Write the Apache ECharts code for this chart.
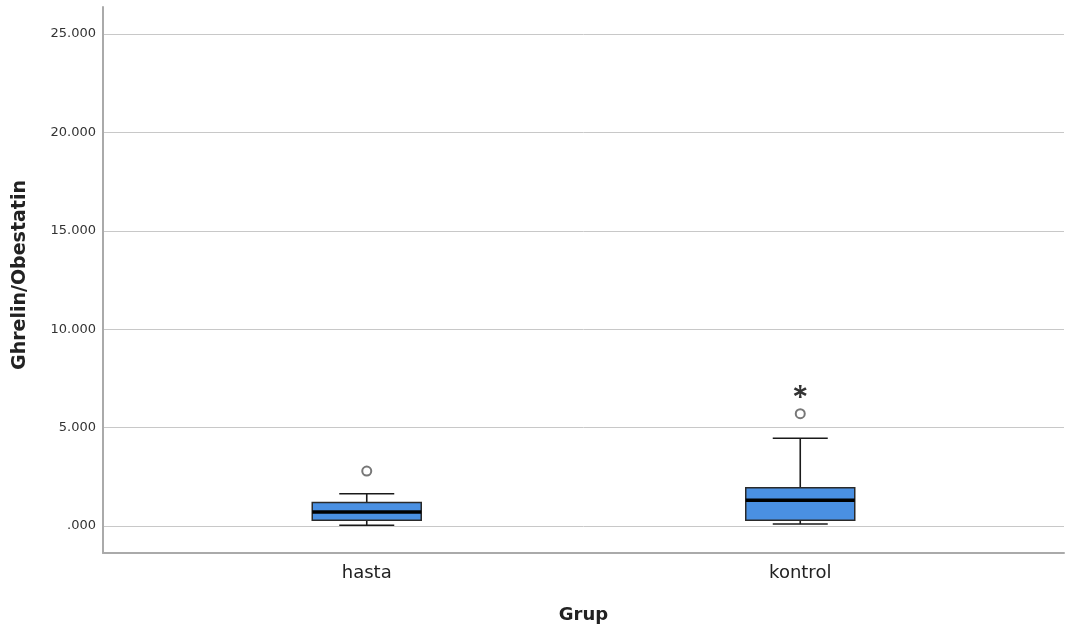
<!DOCTYPE html>
<html><head><meta charset="utf-8">
<script src="https://cdn.jsdelivr.net/npm/echarts@6/dist/echarts.min.js"></script>
<style>html,body{margin:0;padding:0;background:#fff}#c{width:1066px;height:629px}</style>
</head><body><div id="c"></div>
<script>
const categories = ['hasta', 'kontrol'];
// [lower whisker, Q1, median, Q3, upper whisker]
const boxHasta = [0.04, 0.30, 0.71, 1.20, 1.64];
const boxKontrol = [0.10, 0.30, 1.31, 1.95, 4.46];
const outliers = [['hasta', 2.79], ['kontrol', 5.71]];
const extremes = [['kontrol', 6.83]];
const yTicks = [0, 5, 10, 15, 20, 25];
const yMin = -1.37, yMax = 26.37;

const FONT = '"DejaVu Sans", sans-serif';
const chart = echarts.init(document.getElementById('c'));
const fmt = v => { const s = v.toFixed(3); return s.startsWith('0') ? s.slice(1) : s; };
const asterisk = 'path://M4,0 L6,0 L5.6,3.4 L8.6,1.6 L9.6,3.4 L6.4,5 L9.6,6.6 L8.6,8.4 L5.6,6.6 L6,10 L4,10 L4.4,6.6 L1.4,8.4 L0.4,6.6 L3.6,5 L0.4,3.4 L1.4,1.6 L4.4,3.4 Z';

const boxData = [boxHasta, boxKontrol].map((b, i) => [i].concat(b));
const BOXW = 109, CAPW = 55;

function renderBox(params, api) {
  const i = api.value(0);
  const pLow = api.coord([i, api.value(1)]);
  const pQ1 = api.coord([i, api.value(2)]);
  const pMed = api.coord([i, api.value(3)]);
  const pQ3 = api.coord([i, api.value(4)]);
  const pHigh = api.coord([i, api.value(5)]);
  const cx = pMed[0];
  const ls = {stroke: '#1a1a1a', lineWidth: 1.6, fill: null};
  return {
    type: 'group',
    children: [
      {type: 'line', shape: {x1: cx, y1: pQ3[1], x2: cx, y2: pHigh[1]}, style: ls},
      {type: 'line', shape: {x1: cx, y1: pQ1[1], x2: cx, y2: pLow[1]}, style: ls},
      {type: 'line', shape: {x1: cx - CAPW / 2, y1: pHigh[1], x2: cx + CAPW / 2, y2: pHigh[1]}, style: ls},
      {type: 'line', shape: {x1: cx - CAPW / 2, y1: pLow[1], x2: cx + CAPW / 2, y2: pLow[1]}, style: ls},
      {type: 'rect', shape: {x: cx - BOXW / 2, y: pQ3[1], width: BOXW, height: pQ1[1] - pQ3[1]},
       style: {fill: '#4a90e2', stroke: '#2a2a2a', lineWidth: 1.5}},
      {type: 'line', shape: {x1: cx - BOXW / 2, y1: pMed[1], x2: cx + BOXW / 2, y2: pMed[1]},
       style: {stroke: '#000', lineWidth: 3.5}}
    ]
  };
}

chart.setOption({
  animation: false,
  grid: [
    {left: 103, right: 2, top: 7, bottom: 76, outerBoundsMode: 'none', containLabel: false},
    {left: 150, right: 49, top: 7, bottom: 76, outerBoundsMode: 'none', containLabel: false}
  ],
  xAxis: [
    {gridIndex: 0, type: 'category', data: ['', ''],
     axisLine: {onZero: false, lineStyle: {color: '#aaaaaa', width: 2}}, axisTick: {show: false}, axisLabel: {show: false},
     name: 'Grup', nameLocation: 'middle', nameGap: 53,
     nameTextStyle: {fontFamily: FONT, fontSize: 18, fontWeight: 'bold', color: '#222'}},
    {gridIndex: 1, type: 'category', data: categories,
     axisLine: {show: false, onZero: false}, axisTick: {show: false},
     axisLabel: {fontFamily: FONT, fontSize: 18, color: '#222', margin: 11}}
  ],
  yAxis: [
    {gridIndex: 0, type: 'value', min: yMin, max: yMax,
     axisLine: {show: true, onZero: false, lineStyle: {color: '#aaaaaa', width: 2}},
     axisTick: {show: false, customValues: yTicks},
     axisLabel: {customValues: yTicks, formatter: fmt, fontFamily: FONT, fontSize: 13, color: '#333', margin: 7},
     splitLine: {show: true, lineStyle: {color: '#c8c8c8', width: 1}},
     name: 'Ghrelin/Obestatin', nameLocation: 'middle', nameGap: 73,
     nameTextStyle: {fontFamily: FONT, fontSize: 19, fontWeight: 'bold', color: '#222', padding: [0, 0, 0, 10]}},
    {gridIndex: 1, type: 'value', min: yMin, max: yMax, show: false, splitLine: {show: false}}
  ],
  series: [
    {type: 'custom', xAxisIndex: 1, yAxisIndex: 1, renderItem: renderBox,
     encode: {x: 0, y: [1, 2, 3, 4, 5]}, data: boxData, silent: true},
    {type: 'scatter', xAxisIndex: 1, yAxisIndex: 1, symbol: 'circle', symbolSize: 9,
     itemStyle: {color: '#fff', borderColor: '#555', borderWidth: 2}, data: outliers},
    {type: 'scatter', xAxisIndex: 1, yAxisIndex: 1, symbol: asterisk, symbolSize: 13,
     itemStyle: {color: '#000'}, data: extremes}
  ]
});
</script></body></html>
